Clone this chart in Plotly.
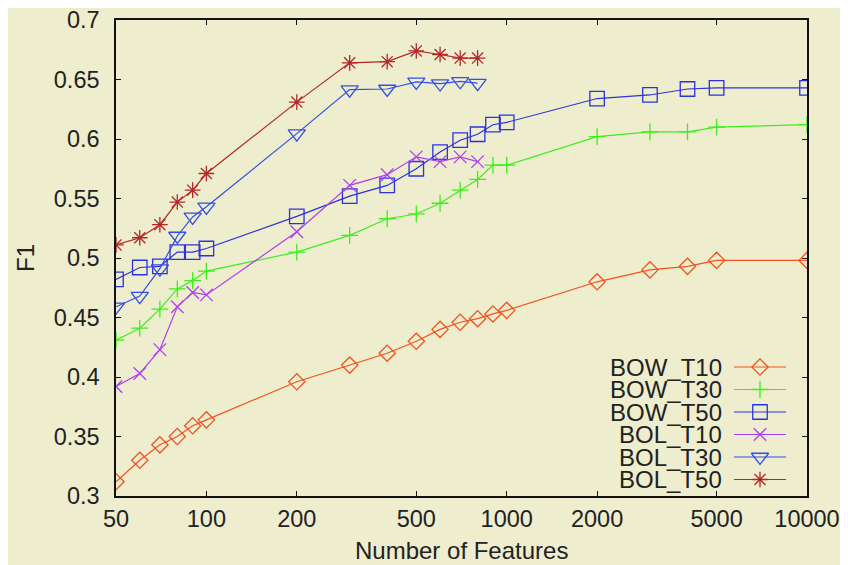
import plotly.graph_objects as go

# ---- data ----
x_bow = [50, 60, 70, 80, 90, 100, 200, 300, 400, 500, 600, 700, 800, 900, 1000, 2000, 3000, 4000, 5000, 10000]
x_bol = [50, 60, 70, 80, 90, 100, 200, 300, 400, 500, 600, 700, 800]

bow_t10 = [0.312, 0.330, 0.343, 0.350, 0.359, 0.364, 0.396, 0.410, 0.420, 0.430, 0.440, 0.446, 0.449, 0.453, 0.456, 0.480, 0.490, 0.493, 0.498, 0.498]
bow_t30 = [0.431, 0.441, 0.457, 0.474, 0.481, 0.489, 0.505, 0.519, 0.533, 0.537, 0.546, 0.557, 0.566, 0.578, 0.578, 0.602, 0.606, 0.606, 0.610, 0.612]
bow_t50 = [0.482, 0.492, 0.493, 0.505, 0.505, 0.508, 0.535, 0.552, 0.561, 0.575, 0.589, 0.599, 0.604, 0.612, 0.614, 0.634, 0.637, 0.642, 0.643, 0.643]
bol_t10 = [0.392, 0.403, 0.423, 0.459, 0.471, 0.469, 0.522, 0.561, 0.570, 0.585, 0.581, 0.585, 0.581]
bol_t30 = [0.459, 0.468, 0.491, 0.5185, 0.5345, 0.543, 0.6045, 0.6415, 0.642, 0.648, 0.6466, 0.6485, 0.647]
bol_t50 = [0.511, 0.517, 0.528, 0.547, 0.557, 0.571, 0.631, 0.664, 0.665, 0.674, 0.671, 0.668, 0.668]

names = ["BOW_T10", "BOW_T30", "BOW_T50", "BOL_T10", "BOL_T30", "BOL_T50"]
xs = [x_bow, x_bow, x_bow, x_bol, x_bol, x_bol]
ys = [bow_t10, bow_t30, bow_t50, bol_t10, bol_t30, bol_t50]

x_ticks = [50, 100, 200, 500, 1000, 2000, 5000, 10000]
x_ticktext = ["50", "100", "200", "500", "1000", "2000", "5000", "10000"]
y_ticks = [0.3, 0.35, 0.4, 0.45, 0.5, 0.55, 0.6, 0.65, 0.7]
y_ticktext = ["0.3", "0.35", "0.4", "0.45", "0.5", "0.55", "0.6", "0.65", "0.7"]

# ---- styles ----
colors = ["#F4521E", "#3EEE1C", "#2B33DD", "#B040EE", "#3050E8", "#B42828"]
symbols = ["diamond-open", "cross-thin-open", "square-open", "x-thin-open", "triangle-down-open", "asterisk-open"]
sizes = [12.5, 12, 14.5, 12.5, 15, 13]

BG = "#EEEDCE"
FONT = "Liberation Sans, Arial, sans-serif"
TXT = "#222222"

OFF = 8  # page body margin
W, H = 848 - OFF, 565 - OFF
L, R, T, B = 116 - OFF, 807 - OFF, 20 - OFF, 496 - OFF

fig = go.Figure()
for n, x, y, c, s, sz in zip(names, xs, ys, colors, symbols, sizes):
    fig.add_trace(go.Scatter(
        x=x, y=y, mode="lines+markers", name=n,
        line=dict(color=c, width=1.2),
        marker=dict(symbol=s, size=sz, color=c, line=dict(color=c, width=1.3)),
        showlegend=False,
    ))

def px2fx(px):
    return (px - OFF - L) / (R - L)

def py2fy(py):
    return (B - (py - OFF)) / (B - T)

row_y = [367, 389.5, 412, 434.5, 457, 479.5]
sx0, sxm, sx1 = px2fx(734), px2fx(760), px2fx(786)
for n, c, s, sz, ry in zip(names, colors, symbols, sizes, row_y):
    fy = py2fy(ry)
    fig.add_trace(go.Scatter(
        x=[sx0, sxm, sx1], y=[fy, fy, fy], mode="lines+markers",
        xaxis="x2", yaxis="y2", showlegend=False, hoverinfo="skip",
        line=dict(color=c, width=1.2),
        marker=dict(symbol=s, size=[0, sz, 0], opacity=[0, 1, 0], color=c,
                    line=dict(color=c, width=1.3)),
    ))
    fig.add_annotation(x=px2fx(724), y=fy, xref="paper", yref="paper",
                       text=n, showarrow=False, xanchor="right", yanchor="middle",
                       font=dict(family=FONT, size=24, color=TXT))

fig.add_annotation(x=px2fx(25), y=0.5, xref="paper", yref="paper", text="F1",
                   textangle=-90, showarrow=False, xanchor="center", yanchor="middle",
                   font=dict(family=FONT, size=24, color=TXT))
fig.add_annotation(x=px2fx(461.5), y=py2fy(550), xref="paper", yref="paper",
                   text="Number of Features", showarrow=False,
                   xanchor="center", yanchor="middle",
                   font=dict(family=FONT, size=24, color=TXT))

axis_common = dict(
    showline=True, linecolor="#111111", linewidth=1.5, mirror="ticks",
    ticks="inside", ticklen=5, tickwidth=1.3, tickcolor="#111111",
    showgrid=False, zeroline=False, automargin=False, ticklabeloverflow="allow",
    tickfont=dict(family=FONT, size=23.5, color=TXT),
)

fig.update_layout(
    width=W, height=H,
    margin=dict(l=L, r=W - R, t=T, b=H - B),
    paper_bgcolor=BG, plot_bgcolor=BG,
    xaxis=dict(type="log", range=[1.69897, 4.0], tickvals=x_ticks, ticktext=x_ticktext,
               ticklabelstandoff=1, **axis_common),
    yaxis=dict(range=[0.3, 0.7], tickvals=y_ticks, ticktext=y_ticktext,
               ticklabelstandoff=10, **axis_common),
    xaxis2=dict(overlaying="x", range=[0, 1], visible=False, fixedrange=True),
    yaxis2=dict(overlaying="y", range=[0, 1], visible=False, fixedrange=True),
    showlegend=False,
)

fig.write_html("out.html")
